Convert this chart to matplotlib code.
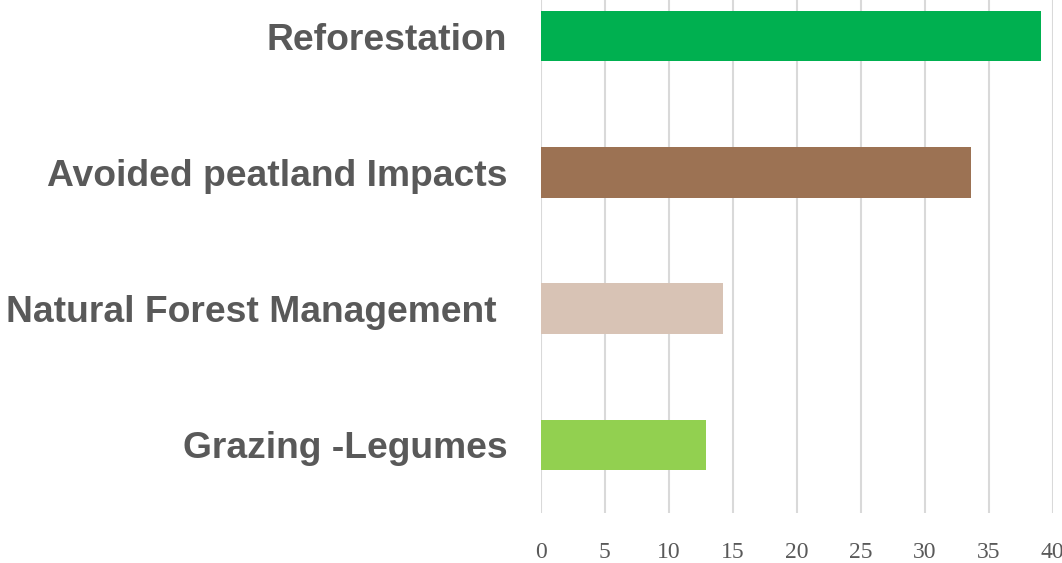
import matplotlib.pyplot as plt

categories = ["Grazing -Legumes", "Natural Forest Management ", "Avoided peatland Impacts", "Reforestation"]
values = [12.9, 14.25, 33.65, 39.1]
colours = ["#92D050", "#D8C3B5", "#9C7253", "#00B050"]
xticks = [0, 5, 10, 15, 20, 25, 30, 35, 40]

fig = plt.figure(figsize=(10.62, 5.63), dpi=100)
ax = fig.add_axes([540.7 / 1062, 1 - 513 / 563, 512 / 1062, 545 / 563])

ypos = list(range(len(categories)))
ax.barh(ypos, values, height=0.37, color=colours, zorder=2)

ax.set_xlim(0, 40)
ax.set_ylim(-0.5, 3.5)
ax.set_xticks(xticks)
ax.set_xticklabels([str(t) for t in xticks], family="Liberation Serif", fontsize=17, color="#595959")
ax.set_yticks(ypos)
ax.set_yticklabels(categories, family="Liberation Sans", fontsize=26.8, fontweight="bold", color="#595959")
ax.tick_params(axis="y", length=0, pad=24)
ax.tick_params(axis="x", length=0, pad=21)

ax.grid(axis="x", color="#D9D9D9", linewidth=1.5, zorder=0)
for s in ax.spines.values():
    s.set_visible(False)

fig.savefig("out.png", dpi=100)
